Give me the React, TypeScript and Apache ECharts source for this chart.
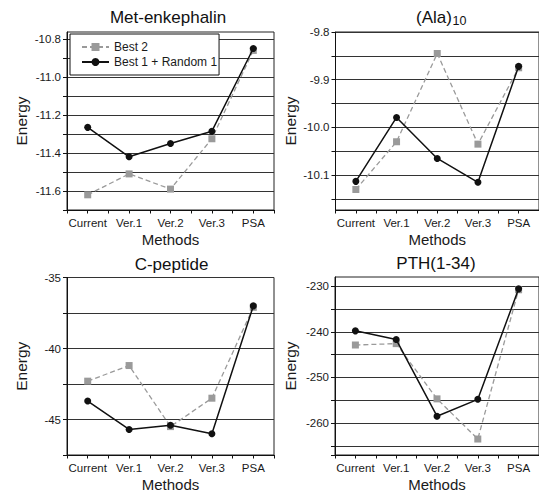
import React, { useEffect, useRef } from "react";
import * as echarts from "echarts";

const categories = ["Current", "Ver.1", "Ver.2", "Ver.3", "PSA"];
const seriesNames = ["Best 2", "Best 1 + Random 1"];

const metBest2 = [-11.62, -11.51, -11.59, -11.325, -10.86];
const metBest1R1 = [-11.265, -11.42, -11.35, -11.285, -10.85];
const alaBest2 = [-10.13, -10.03, -9.845, -10.035, -9.875];
const alaBest1R1 = [-10.113, -9.979, -10.065, -10.115, -9.872];
const cpepBest2 = [-42.3, -41.2, -45.5, -43.5, -37.1];
const cpepBest1R1 = [-43.7, -45.7, -45.4, -46.0, -37.0];
const pthBest2 = [-242.9, -242.6, -254.7, -263.5, -230.8];
const pthBest1R1 = [-239.8, -241.7, -258.5, -254.8, -230.6];

const metTicks = [-11.7, -11.6, -11.5, -11.4, -11.3, -11.2, -11.1, -11.0, -10.9, -10.8];
const metLabels = [-11.6, -11.4, -11.2, -11.0, -10.8];
const alaTicks = [-10.15, -10.1, -10.05, -10.0, -9.95, -9.9, -9.85, -9.8];
const alaLabels = [-10.1, -10.0, -9.9, -9.8];
const cpepTicks = [-47.5, -45, -42.5, -40, -37.5, -35];
const cpepLabels = [-45, -40, -35];
const pthTicks = [-267, -265, -260, -255, -250, -245, -240, -235, -230];
const pthLabels = [-260, -250, -240, -230];

const FONT = "'Liberation Sans', Arial, Helvetica, sans-serif";

export default function App() {
  const ref = useRef<HTMLDivElement>(null);
  useEffect(() => {
    if (!ref.current) return;
    const chart = echarts.init(ref.current, null, { renderer: "svg" });

    const panels = [
      { grid: { left: 67, top: 32, width: 207, height: 178 }, min: -11.7, max: -10.763, ticks: metTicks, labels: metLabels, dec: 1, b2: metBest2, b1: metBest1R1, nameGap: 38 },
      { grid: { left: 335.5, top: 32, width: 208, height: 178 }, min: -10.173, max: -9.8, ticks: alaTicks, labels: alaLabels, dec: 1, b2: alaBest2, b1: alaBest1R1, nameGap: 37 },
      { grid: { left: 67, top: 277.5, width: 207, height: 178 }, min: -47.5, max: -35, ticks: cpepTicks, labels: cpepLabels, dec: 0, b2: cpepBest2, b1: cpepBest1R1, nameGap: 38 },
      { grid: { left: 335, top: 277, width: 208, height: 178.5 }, min: -267, max: -228, ticks: pthTicks, labels: pthLabels, dec: 0, b2: pthBest2, b1: pthBest1R1, nameGap: 37 },
    ];

    const grids: any[] = [];
    const xAxes: any[] = [];
    const yAxes: any[] = [];
    const series: any[] = [];
    const axisColor = "#111";
    const textColor = "#1a1a1a";

    panels.forEach((p, i) => {
      grids.push({ ...p.grid, show: true, borderColor: "#222", borderWidth: 1, backgroundColor: "transparent", containLabel: false });
      xAxes.push({
        type: "category", gridIndex: i, data: categories, boundaryGap: true, position: "bottom",
        axisLine: { show: true, lineStyle: { color: axisColor, width: 1 } },
        axisTick: { show: true, alignWithLabel: false, interval: 0, length: 3.5, lineStyle: { color: axisColor } },
        axisLabel: { interval: 0, fontSize: 11.5, margin: 7, color: textColor, fontFamily: FONT },
        splitLine: { show: false },
        name: "Methods", nameLocation: "middle", nameGap: 22, nameMoveOverlap: false,
        nameTextStyle: { fontSize: 15, color: textColor, fontFamily: FONT },
      });
      yAxes.push({
        type: "value", gridIndex: i, min: p.min, max: p.max,
        axisLine: { show: true, lineStyle: { color: axisColor, width: 1 } },
        axisTick: { show: true, inside: false, length: 4, customValues: p.ticks, lineStyle: { color: axisColor } },
        axisLabel: { customValues: p.labels, formatter: (v: number) => v.toFixed(p.dec), fontSize: 11.5, margin: 6, color: textColor, fontFamily: FONT },
        splitLine: { show: true, lineStyle: { color: "#333", width: 1 } },
        name: "Energy", nameLocation: "middle", nameGap: p.nameGap, nameMoveOverlap: false,
        nameTextStyle: { fontSize: 15.5, color: textColor, fontFamily: FONT },
      });
      series.push({
        type: "line", name: seriesNames[0], xAxisIndex: i, yAxisIndex: i, data: p.b2,
        symbol: "rect", symbolSize: 7, z: 3,
        lineStyle: { color: "#9a9a9a", width: 1.3, type: [5, 3] },
        itemStyle: { color: "#9a9a9a" },
      });
      series.push({
        type: "line", name: seriesNames[1], xAxisIndex: i, yAxisIndex: i, data: p.b1,
        symbol: "circle", symbolSize: 7, z: 4,
        lineStyle: { color: "#111", width: 1.5, type: "solid" },
        itemStyle: { color: "#111" },
      });
    });
    panels.forEach((p, i) => {
      xAxes.push({
        type: "category", gridIndex: i, data: categories, boundaryGap: true, position: "bottom", offset: 0,
        axisLine: { show: false },
        axisTick: { show: true, alignWithLabel: true, interval: 0, length: 3.5, lineStyle: { color: axisColor } },
        axisLabel: { show: false },
        splitLine: { show: false },
      });
    });

    const titleStyle = { fill: "#111", fontSize: 17, fontFamily: FONT };
    chart.setOption({
      animation: false,
      backgroundColor: "#fff",
      grid: grids,
      xAxis: xAxes,
      yAxis: yAxes,
      series,
      legend: {
        data: seriesNames, orient: "vertical", left: 70, top: 34,
        itemWidth: 27, itemHeight: 10, itemGap: 3,
        padding: [7, 2, 7, 11],
        borderColor: "#111", borderWidth: 1, backgroundColor: "#fff",
        textStyle: { fontSize: 12, color: textColor, fontFamily: FONT },
        z: 10,
      },
      graphic: [
        { type: "text", x: 168, y: 17.5, style: { ...titleStyle, text: "Met-enkephalin", textAlign: "center", textVerticalAlign: "middle" } },
        { type: "text", x: 452, y: 17.5, style: { ...titleStyle, text: "(Ala)", textAlign: "right", textVerticalAlign: "middle" } },
        { type: "text", x: 452.5, y: 20.5, style: { ...titleStyle, fontSize: 12.5, text: "10", textAlign: "left", textVerticalAlign: "middle" } },
        { type: "text", x: 171.5, y: 264, style: { ...titleStyle, text: "C-peptide", textAlign: "center", textVerticalAlign: "middle" } },
        { type: "text", x: 436, y: 263, style: { ...titleStyle, text: "PTH(1-34)", textAlign: "center", textVerticalAlign: "middle" } },
      ],
    });
    return () => chart.dispose();
  }, []);
  return <div ref={ref} style={{ position: "fixed", left: 0, top: 0, width: 539, height: 493, background: "#fff" }} />;
}
